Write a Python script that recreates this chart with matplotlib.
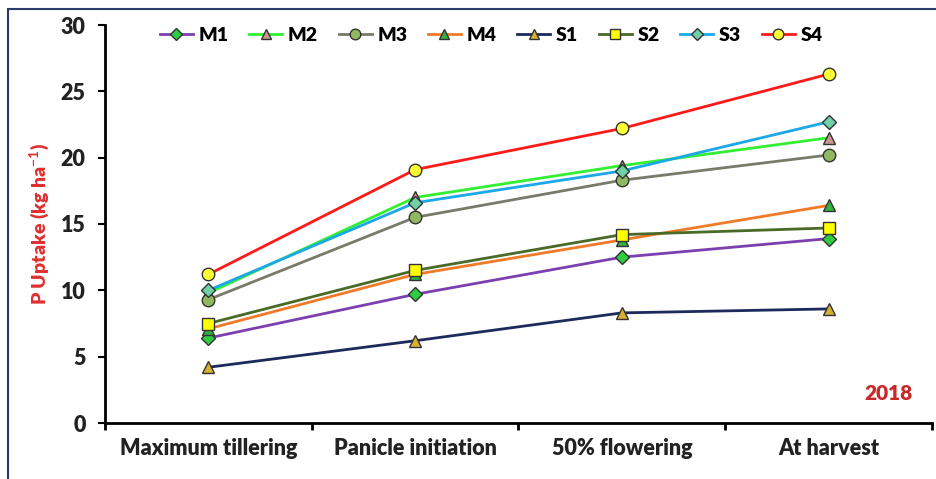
import matplotlib.pyplot as plt
from matplotlib.patches import Rectangle

stages = ['Maximum tillering', 'Panicle initiation', '50% flowering', 'At harvest']

M1 = [6.4, 9.7, 12.5, 13.9]
M2 = [9.8, 17.0, 19.4, 21.5]
M3 = [9.3, 15.5, 18.3, 20.2]
M4 = [7.1, 11.2, 13.8, 16.4]
S1 = [4.2, 6.2, 8.3, 8.6]
S2 = [7.5, 11.5, 14.2, 14.7]
S3 = [10.0, 16.6, 19.0, 22.7]
S4 = [11.2, 19.1, 22.2, 26.3]

series = [
    # name, values, line colour, marker, marker face
    ('M1', M1, '#7b3fb0', 'D', '#2ecc40'),
    ('M2', M2, '#33ee33', '^', '#c8968c'),
    ('M3', M3, '#7a7a6a', 'o', '#8fb860'),
    ('M4', M4, '#f07a28', '^', '#33b040'),
    ('S1', S1, '#1c2a5c', '^', '#d8b030'),
    ('S2', S2, '#4a6a28', 's', '#ffff00'),
    ('S3', S3, '#1aa8e8', 'D', '#70d0a8'),
    ('S4', S4, '#ff1a1a', 'o', '#ffff33'),
]

plt.rcParams['font.family'] = ['Lato', 'DejaVu Sans']
plt.rcParams['font.weight'] = 'heavy'
plt.rcParams['mathtext.fontset'] = 'custom'
plt.rcParams['mathtext.rm'] = 'Lato:bold'
plt.rcParams['mathtext.bf'] = 'Lato:bold'

fig = plt.figure(figsize=(9.37, 4.79), dpi=100)
# frame around the chart area (only left and top edges visible)
fig.patches.append(Rectangle((8 / 937, -0.1), 1.2, (479 - 9) / 479 + 0.1,
                             transform=fig.transFigure, fill=False,
                             edgecolor='#2b3a6e', linewidth=1.5))
ax = fig.add_axes([105 / 937, 56 / 479, 827 / 937, 398 / 479])

x = list(range(len(stages)))
for name, vals, lc, mk, mf in series:
    ms = 7 if mk == 'D' else 9
    ax.plot(x, vals, color=lc, linewidth=2, marker=mk, markersize=ms,
            markerfacecolor=mf, markeredgecolor='#333333', markeredgewidth=1,
            label=name)

ax.set_xlim(-0.5, 3.5)
ax.set_ylim(0, 30)
ax.set_yticks(range(0, 31, 5))
ax.set_xticks(x)
ax.set_xticklabels(stages)
ax.set_xticks([-0.5, 0.5, 1.5, 2.5, 3.5], minor=True)
ax.tick_params(axis='x', which='major', length=0, pad=11, labelsize=15.5,
               labelcolor='#222222')
ax.tick_params(axis='x', which='minor', length=5, width=2, direction='out')
ax.tick_params(axis='y', length=5, width=1.5, direction='out', labelsize=15.5,
               labelcolor='#222222', pad=9)
for lab in ax.get_xticklabels() + ax.get_yticklabels():
    lab.set_fontweight('heavy')

ax.spines['top'].set_visible(False)
ax.spines['right'].set_visible(False)
ax.spines['left'].set_linewidth(2)
ax.spines['bottom'].set_linewidth(2)

ax.set_ylabel(r'P Uptake (kg ha$^{\mathbf{-1}}$)', color='#e03030', fontsize=14,
              fontweight='heavy', labelpad=6)

ax.text(0.976, 0.075, '2018', transform=ax.transAxes, ha='right', va='center',
        color='#c82828', fontsize=15, fontweight='heavy')

ax.legend(loc='upper center', bbox_to_anchor=(0.467, 1.04), ncol=8,
          frameon=False, handlelength=1.7, handletextpad=0.3,
          columnspacing=1.05, markerscale=0.85,
          prop={'weight': 'heavy', 'size': 14})

fig.savefig('out.png', dpi=100)
